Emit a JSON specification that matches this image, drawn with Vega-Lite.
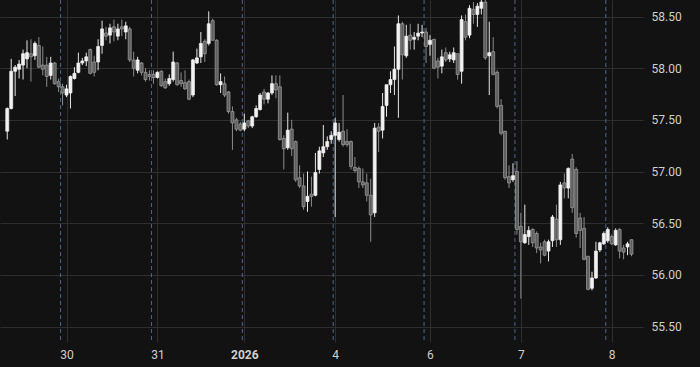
{
  "$schema": "https://vega.github.io/schema/vega-lite/v6.json",
  "width": 643,
  "height": 342,
  "autosize": {"type": "none"},
  "padding": {"left": 0, "top": 0, "right": 57, "bottom": 25},
  "background": "#121212",
  "config": {
    "view": {"stroke": null},
    "axis": {"labelFont": "Roboto", "labelFontSize": 12, "labelColor": "#cfcfcf", "gridColor": "#2e2e2e", "gridWidth": 1, "domain": false, "ticks": false, "title": null}
  },
  "datasets": {
    "seps": [{"s": 14.5}, {"s": 37.5}, {"s": 60.5}, {"s": 83.5}, {"s": 106.5}, {"s": 129.5}, {"s": 152.5}],
    "bars": [
      {"i":1,"o":57.39,"h":57.62,"l":57.31,"c":57.61},
      {"i":2,"o":57.61,"h":58.09,"l":57.60,"c":57.97},
      {"i":3,"o":57.97,"h":58.03,"l":57.73,"c":58.01},
      {"i":4,"o":57.99,"h":58.08,"l":57.90,"c":58.04},
      {"i":5,"o":58.03,"h":58.18,"l":57.89,"c":58.14},
      {"i":6,"o":58.09,"h":58.27,"l":58.00,"c":58.15},
      {"i":7,"o":58.14,"h":58.28,"l":57.87,"c":58.11},
      {"i":8,"o":58.12,"h":58.26,"l":58.08,"c":58.24},
      {"i":9,"o":58.22,"h":58.30,"l":58.00,"c":58.01},
      {"i":10,"o":58.03,"h":58.21,"l":57.93,"c":57.99},
      {"i":11,"o":58.03,"h":58.11,"l":57.82,"c":57.92},
      {"i":12,"o":57.93,"h":58.11,"l":57.89,"c":58.05},
      {"i":13,"o":58.05,"h":58.06,"l":57.84,"c":57.85},
      {"i":14,"o":57.87,"h":57.90,"l":57.77,"c":57.82},
      {"i":15,"o":57.82,"h":57.85,"l":57.64,"c":57.76},
      {"i":16,"o":57.74,"h":57.84,"l":57.72,"c":57.80},
      {"i":17,"o":57.76,"h":57.93,"l":57.61,"c":57.92},
      {"i":18,"o":57.90,"h":58.01,"l":57.89,"c":57.95},
      {"i":19,"o":57.96,"h":58.15,"l":57.95,"c":58.05},
      {"i":20,"o":58.05,"h":58.10,"l":58.03,"c":58.07},
      {"i":21,"o":58.07,"h":58.15,"l":58.02,"c":58.11},
      {"i":22,"o":58.18,"h":58.19,"l":57.94,"c":57.95},
      {"i":23,"o":58.06,"h":58.12,"l":57.92,"c":57.96},
      {"i":24,"o":58.06,"h":58.28,"l":57.98,"c":58.21},
      {"i":25,"o":58.22,"h":58.46,"l":58.14,"c":58.38},
      {"i":26,"o":58.34,"h":58.40,"l":58.27,"c":58.31},
      {"i":27,"o":58.32,"h":58.43,"l":58.24,"c":58.39},
      {"i":28,"o":58.40,"h":58.47,"l":58.26,"c":58.35},
      {"i":29,"o":58.31,"h":58.43,"l":58.27,"c":58.38},
      {"i":30,"o":58.40,"h":58.47,"l":58.31,"c":58.38},
      {"i":31,"o":58.35,"h":58.45,"l":58.28,"c":58.41},
      {"i":32,"o":58.38,"h":58.40,"l":58.06,"c":58.08},
      {"i":33,"o":58.08,"h":58.16,"l":57.92,"c":58.00},
      {"i":34,"o":57.98,"h":58.11,"l":57.95,"c":58.08},
      {"i":35,"o":58.05,"h":58.06,"l":57.93,"c":57.96},
      {"i":36,"o":57.96,"h":58.00,"l":57.87,"c":57.89},
      {"i":37,"o":57.94,"h":57.98,"l":57.88,"c":57.92},
      {"i":38,"o":57.94,"h":57.98,"l":57.85,"c":57.91},
      {"i":39,"o":57.91,"h":57.97,"l":57.90,"c":57.96},
      {"i":40,"o":57.97,"h":57.98,"l":57.82,"c":57.83},
      {"i":41,"o":57.87,"h":57.90,"l":57.80,"c":57.81},
      {"i":42,"o":57.85,"h":57.94,"l":57.83,"c":57.90},
      {"i":43,"o":57.89,"h":58.16,"l":57.87,"c":58.06},
      {"i":44,"o":58.05,"h":58.06,"l":57.83,"c":57.84},
      {"i":45,"o":57.88,"h":57.96,"l":57.82,"c":57.85},
      {"i":46,"o":57.86,"h":57.98,"l":57.79,"c":57.80},
      {"i":47,"o":57.87,"h":57.89,"l":57.69,"c":57.70},
      {"i":48,"o":57.74,"h":58.09,"l":57.72,"c":58.08},
      {"i":49,"o":58.05,"h":58.19,"l":58.04,"c":58.10},
      {"i":50,"o":58.11,"h":58.35,"l":58.05,"c":58.24},
      {"i":51,"o":58.26,"h":58.28,"l":58.06,"c":58.14},
      {"i":52,"o":58.24,"h":58.55,"l":58.22,"c":58.43},
      {"i":53,"o":58.46,"h":58.48,"l":58.27,"c":58.27},
      {"i":54,"o":58.27,"h":58.28,"l":57.83,"c":57.84},
      {"i":55,"o":57.84,"h":57.95,"l":57.76,"c":57.87},
      {"i":56,"o":57.85,"h":57.92,"l":57.72,"c":57.74},
      {"i":57,"o":57.77,"h":57.78,"l":57.56,"c":57.58},
      {"i":58,"o":57.58,"h":57.63,"l":57.21,"c":57.47},
      {"i":59,"o":57.50,"h":57.52,"l":57.39,"c":57.41},
      {"i":60,"o":57.46,"h":57.48,"l":57.39,"c":57.40},
      {"i":61,"o":57.41,"h":57.56,"l":57.39,"c":57.47},
      {"i":62,"o":57.49,"h":57.50,"l":57.42,"c":57.44},
      {"i":63,"o":57.44,"h":57.54,"l":57.42,"c":57.53},
      {"i":64,"o":57.53,"h":57.64,"l":57.52,"c":57.61},
      {"i":65,"o":57.60,"h":57.76,"l":57.59,"c":57.74},
      {"i":66,"o":57.77,"h":57.80,"l":57.65,"c":57.70},
      {"i":67,"o":57.70,"h":57.77,"l":57.66,"c":57.76},
      {"i":68,"o":57.76,"h":57.93,"l":57.74,"c":57.85},
      {"i":69,"o":57.85,"h":57.93,"l":57.71,"c":57.79},
      {"i":70,"o":57.82,"h":57.93,"l":57.30,"c":57.31},
      {"i":71,"o":57.32,"h":57.35,"l":57.02,"c":57.22},
      {"i":72,"o":57.23,"h":57.57,"l":57.21,"c":57.40},
      {"i":73,"o":57.41,"h":57.50,"l":57.15,"c":57.22},
      {"i":74,"o":57.29,"h":57.30,"l":56.90,"c":56.92},
      {"i":75,"o":56.94,"h":57.06,"l":56.84,"c":56.86},
      {"i":76,"o":56.86,"h":56.98,"l":56.63,"c":56.66},
      {"i":77,"o":56.71,"h":57.00,"l":56.61,"c":56.76},
      {"i":78,"o":56.78,"h":56.95,"l":56.66,"c":56.76},
      {"i":79,"o":56.77,"h":57.18,"l":56.76,"c":56.99},
      {"i":80,"o":57.02,"h":57.24,"l":56.98,"c":57.20},
      {"i":81,"o":57.18,"h":57.45,"l":57.14,"c":57.24},
      {"i":82,"o":57.24,"h":57.34,"l":57.21,"c":57.29},
      {"i":83,"o":57.31,"h":57.39,"l":57.27,"c":57.35},
      {"i":84,"o":57.35,"h":57.52,"l":56.56,"c":57.47},
      {"i":85,"o":57.31,"h":57.47,"l":57.29,"c":57.38},
      {"i":86,"o":57.39,"h":57.74,"l":57.24,"c":57.26},
      {"i":87,"o":57.29,"h":57.41,"l":57.24,"c":57.26},
      {"i":88,"o":57.29,"h":57.30,"l":57.02,"c":57.05},
      {"i":89,"o":57.04,"h":57.14,"l":56.99,"c":57.01},
      {"i":90,"o":57.03,"h":57.05,"l":56.84,"c":56.90},
      {"i":91,"o":56.90,"h":57.03,"l":56.84,"c":56.87},
      {"i":92,"o":56.89,"h":56.98,"l":56.71,"c":56.77},
      {"i":93,"o":56.77,"h":56.93,"l":56.32,"c":56.58},
      {"i":94,"o":56.60,"h":57.47,"l":56.56,"c":57.42},
      {"i":95,"o":57.43,"h":57.47,"l":57.19,"c":57.39},
      {"i":96,"o":57.40,"h":57.76,"l":57.32,"c":57.63},
      {"i":97,"o":57.64,"h":57.84,"l":57.53,"c":57.84},
      {"i":98,"o":57.84,"h":57.97,"l":57.76,"c":57.89},
      {"i":99,"o":57.89,"h":58.21,"l":57.74,"c":57.99},
      {"i":100,"o":57.99,"h":58.51,"l":57.52,"c":58.43},
      {"i":101,"o":58.43,"h":58.45,"l":57.89,"c":58.13},
      {"i":102,"o":58.12,"h":58.42,"l":58.10,"c":58.31},
      {"i":103,"o":58.32,"h":58.43,"l":58.18,"c":58.27},
      {"i":104,"o":58.28,"h":58.35,"l":58.18,"c":58.30},
      {"i":105,"o":58.31,"h":58.43,"l":58.27,"c":58.34},
      {"i":106,"o":58.34,"h":58.42,"l":58.30,"c":58.35},
      {"i":107,"o":58.35,"h":58.39,"l":58.05,"c":58.21},
      {"i":108,"o":58.23,"h":58.32,"l":58.12,"c":58.27},
      {"i":109,"o":58.28,"h":58.28,"l":57.99,"c":58.00},
      {"i":110,"o":58.07,"h":58.10,"l":57.90,"c":58.01},
      {"i":111,"o":58.02,"h":58.18,"l":57.95,"c":58.11},
      {"i":112,"o":58.15,"h":58.20,"l":58.06,"c":58.08},
      {"i":113,"o":58.09,"h":58.16,"l":58.06,"c":58.13},
      {"i":114,"o":58.08,"h":58.20,"l":58.05,"c":58.15},
      {"i":115,"o":58.14,"h":58.14,"l":57.89,"c":57.94},
      {"i":116,"o":57.97,"h":58.51,"l":57.85,"c":58.47},
      {"i":117,"o":58.45,"h":58.52,"l":58.27,"c":58.30},
      {"i":118,"o":58.32,"h":58.61,"l":58.29,"c":58.58},
      {"i":119,"o":58.57,"h":58.64,"l":58.43,"c":58.52},
      {"i":120,"o":58.52,"h":58.63,"l":58.40,"c":58.60},
      {"i":121,"o":58.58,"h":58.67,"l":58.52,"c":58.64},
      {"i":122,"o":58.64,"h":58.67,"l":58.08,"c":58.10},
      {"i":123,"o":58.12,"h":58.45,"l":57.74,"c":58.15},
      {"i":124,"o":58.16,"h":58.30,"l":57.93,"c":57.94},
      {"i":125,"o":57.96,"h":57.98,"l":57.61,"c":57.63},
      {"i":126,"o":57.64,"h":57.70,"l":57.35,"c":57.37},
      {"i":127,"o":57.39,"h":57.39,"l":56.92,"c":56.94},
      {"i":128,"o":56.95,"h":57.06,"l":56.84,"c":56.89},
      {"i":129,"o":56.92,"h":57.08,"l":56.90,"c":56.96},
      {"i":130,"o":57.00,"h":57.10,"l":56.39,"c":56.44},
      {"i":131,"o":56.47,"h":56.60,"l":55.77,"c":56.32},
      {"i":132,"o":56.31,"h":56.68,"l":56.30,"c":56.39},
      {"i":133,"o":56.37,"h":56.47,"l":56.29,"c":56.43},
      {"i":134,"o":56.44,"h":56.45,"l":56.27,"c":56.31},
      {"i":135,"o":56.40,"h":56.42,"l":56.21,"c":56.26},
      {"i":136,"o":56.27,"h":56.31,"l":56.11,"c":56.24},
      {"i":137,"o":56.32,"h":56.34,"l":56.18,"c":56.19},
      {"i":138,"o":56.23,"h":56.34,"l":56.13,"c":56.32},
      {"i":139,"o":56.33,"h":56.58,"l":56.27,"c":56.56},
      {"i":140,"o":56.54,"h":56.68,"l":56.27,"c":56.34},
      {"i":141,"o":56.34,"h":56.90,"l":56.29,"c":56.87},
      {"i":142,"o":56.89,"h":56.98,"l":56.74,"c":56.84},
      {"i":143,"o":56.84,"h":57.04,"l":56.74,"c":57.03},
      {"i":144,"o":57.12,"h":57.17,"l":56.60,"c":56.65},
      {"i":145,"o":57.02,"h":57.04,"l":56.36,"c":56.40},
      {"i":146,"o":56.55,"h":56.60,"l":56.26,"c":56.43},
      {"i":147,"o":56.45,"h":56.56,"l":56.14,"c":56.15},
      {"i":148,"o":56.18,"h":56.18,"l":55.85,"c":55.86},
      {"i":149,"o":55.87,"h":56.03,"l":55.85,"c":55.97},
      {"i":150,"o":55.97,"h":56.32,"l":55.96,"c":56.23},
      {"i":151,"o":56.24,"h":56.32,"l":56.22,"c":56.31},
      {"i":152,"o":56.30,"h":56.42,"l":56.29,"c":56.40},
      {"i":153,"o":56.33,"h":56.46,"l":56.31,"c":56.44},
      {"i":154,"o":56.37,"h":56.39,"l":56.29,"c":56.30},
      {"i":155,"o":56.29,"h":56.45,"l":56.28,"c":56.43},
      {"i":156,"o":56.44,"h":56.45,"l":56.16,"c":56.23},
      {"i":157,"o":56.26,"h":56.29,"l":56.15,"c":56.22},
      {"i":158,"o":56.27,"h":56.32,"l":56.19,"c":56.30},
      {"i":159,"o":56.34,"h":56.34,"l":56.18,"c":56.20}
    ]
  },
  "layer": [
    {
      "data": {"name": "bars"},
      "mark": {"type": "rule", "strokeWidth": 1, "clip": true},
      "encoding": {
        "x": {"field": "i", "type": "quantitative",
          "scale": {"domain": [0.43, 160.65], "nice": false, "zero": false},
          "axis": {"orient": "bottom", "title": null, "values": [16, 39, 61, 84, 108, 131, 154], "grid": true, "labelPadding": 7,
            "labelExpr": "datum.value == 16 ? '30' : datum.value == 39 ? '31' : datum.value == 61 ? '2026' : datum.value == 84 ? '4' : datum.value == 108 ? '6' : datum.value == 131 ? '7' : '8'",
            "labelFontWeight": {"condition": {"test": "datum.value == 61", "value": "bold"}, "value": "normal"}}},
        "y": {"field": "l", "type": "quantitative",
          "scale": {"domain": [55.35, 58.66], "nice": false, "zero": false},
          "axis": {"orient": "right", "title": null, "values": [55.5, 56, 56.5, 57, 57.5, 58, 58.5], "format": ".2f", "grid": true, "labelPadding": 8}},
        "y2": {"field": "h"},
        "color": {"condition": {"test": "datum.c >= datum.o", "value": "#e6e6e6"}, "value": "#8c8c8c"}
      }
    },
    {
      "data": {"name": "seps"},
      "mark": {"type": "rule", "strokeDash": [4, 3], "strokeWidth": 1, "color": "#4a6890"},
      "encoding": {
        "x": {"field": "s", "type": "quantitative"}
      }
    },
    {
      "data": {"name": "bars"},
      "mark": {"type": "bar", "size": 3, "strokeWidth": 0.7, "clip": true},
      "encoding": {
        "x": {"field": "i", "type": "quantitative"},
        "y": {"field": "o", "type": "quantitative"},
        "y2": {"field": "c"},
        "fill": {"condition": {"test": "datum.c >= datum.o", "value": "#f2f2f2"}, "value": "#5e5e5e"},
        "stroke": {"condition": {"test": "datum.c >= datum.o", "value": "#f2f2f2"}, "value": "#a3a3a3"}
      }
    }
  ]
}
